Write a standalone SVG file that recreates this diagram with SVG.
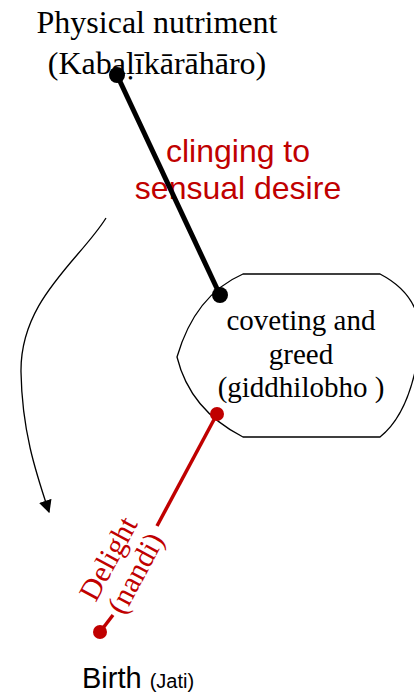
<svg xmlns="http://www.w3.org/2000/svg" width="414" height="695" viewBox="0 0 414 695">
<style>
.serif{font-family:"Liberation Serif","Times New Roman",serif;}
.sans{font-family:"Liberation Sans",Arial,sans-serif;}
.red{fill:#c00000;}
</style>
<defs>
<marker id="arr" viewBox="0 0 10 10" refX="9" refY="5" markerWidth="13" markerHeight="13" orient="auto" markerUnits="userSpaceOnUse">
<path d="M0,0 L10,5 L0,10 z" fill="#000"/>
</marker>
</defs>
<rect width="414" height="695" fill="#fff"/>
<g id="physical">
<text class="serif" x="157" y="33" font-size="32" text-anchor="middle">Physical nutriment</text>
<text class="serif" x="157" y="74" font-size="32" text-anchor="middle">(Kabaḷīkārāhāro)</text>
</g>
<g id="coveting">
<path d="M243,274 L380,274 Q430,300 418,357 Q408,415 380,437 L243,437 Q190,410 177,357 Q195,295 243,274 Z" fill="#fff" stroke="#000" stroke-width="1.3"/>
<text class="serif" x="301" y="330" font-size="29" text-anchor="middle">coveting and</text>
<text class="serif" x="301" y="364" font-size="29" text-anchor="middle">greed</text>
<text class="serif" x="301" y="397" font-size="29" text-anchor="middle">(giddhilobho )</text>
</g>
<g id="clinging">
<text class="sans red" x="238" y="162" font-size="32" text-anchor="middle">clinging to</text>
<text class="sans red" x="238" y="199" font-size="32" text-anchor="middle">sensual desire</text>
</g>
<g id="birth">
<text class="sans" x="82" y="688" font-size="29">Birth <tspan font-size="20">(Jati)</tspan></text>
</g>
<g id="connectors">
<line x1="117" y1="75" x2="220" y2="295" stroke="#000" stroke-width="5"/>
<circle cx="117" cy="75" r="8" fill="#000"/>
<circle cx="220" cy="295" r="8" fill="#000"/>
<line x1="217" y1="414" x2="157" y2="526" stroke="#c00000" stroke-width="3.5"/>
<line x1="113" y1="615" x2="100" y2="632" stroke="#c00000" stroke-width="3.5"/>
<circle cx="217" cy="414" r="7" fill="#c00000"/>
<circle cx="100" cy="632" r="7" fill="#c00000"/>
<path d="M106,218 C80,260 20,300 21,372 C22,430 35,470 49,512" fill="none" stroke="#000" stroke-width="1.3" marker-end="url(#arr)"/>
<g transform="translate(124,567) rotate(-61.8)" class="serif red" font-size="30" text-anchor="middle">
<text x="0" y="-8">Delight</text>
<text x="0" y="23">(nandi)</text>
</g>
</g>
</svg>
